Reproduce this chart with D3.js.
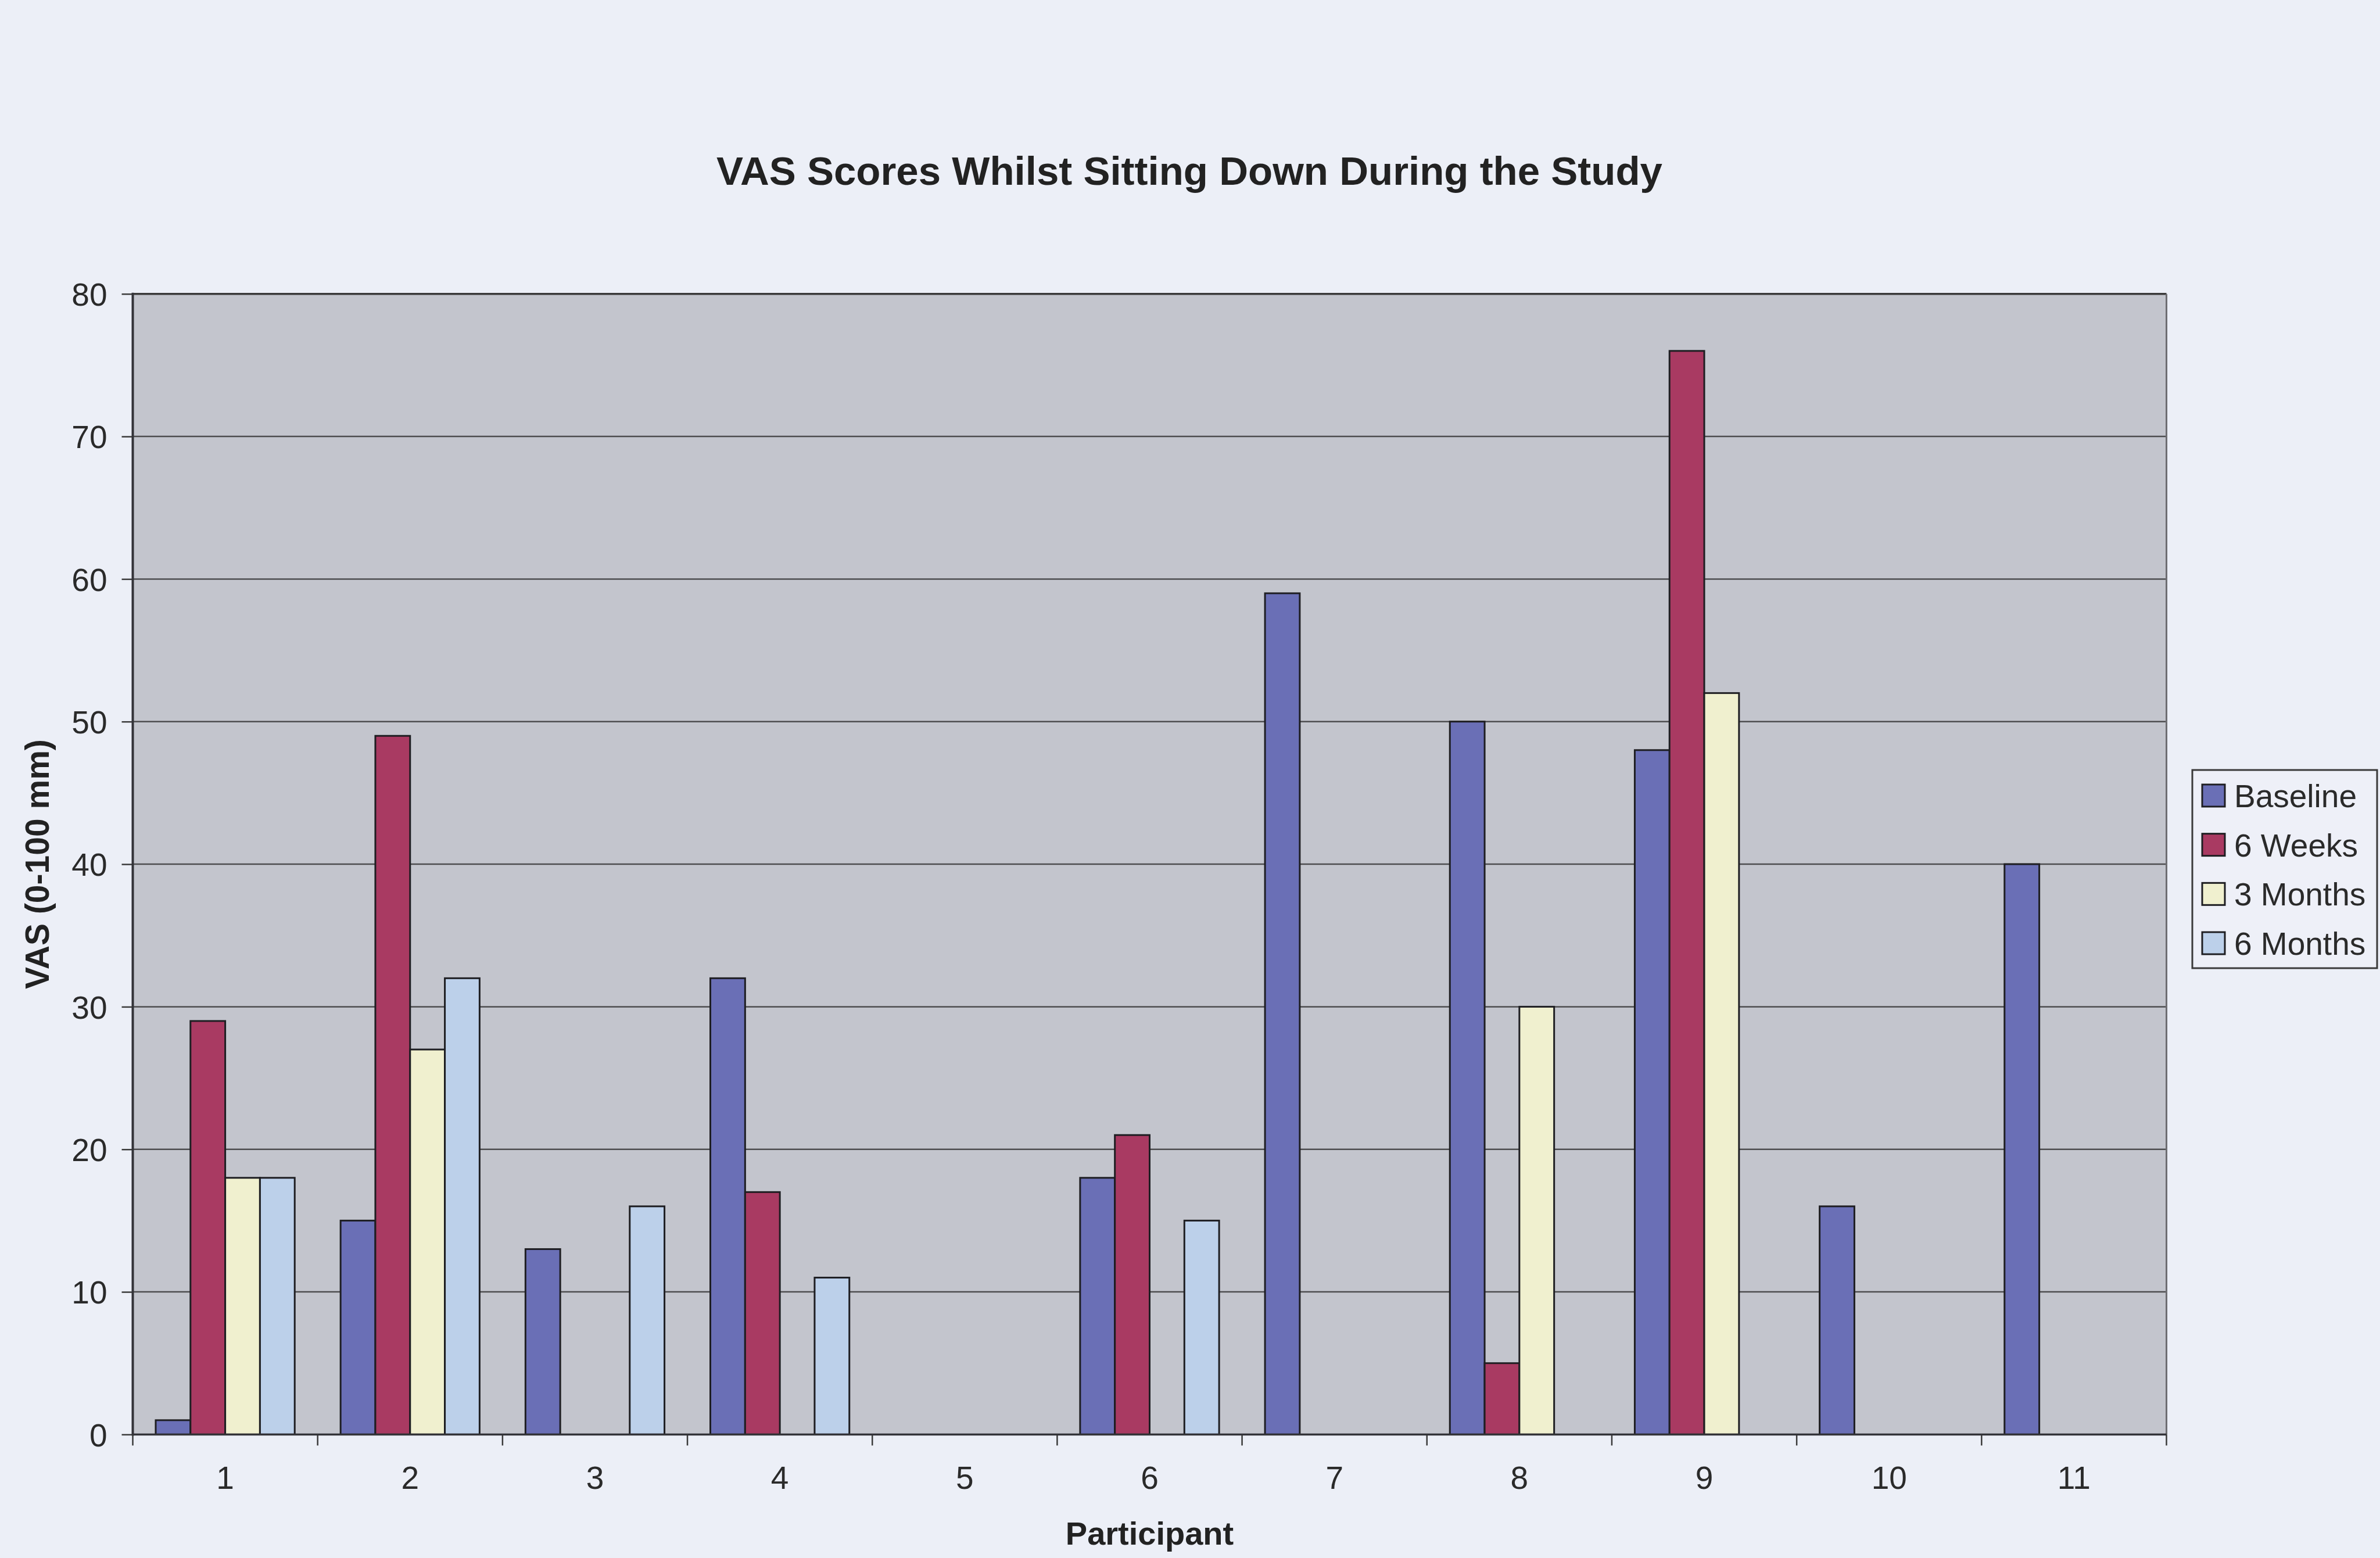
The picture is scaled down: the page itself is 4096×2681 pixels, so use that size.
<!DOCTYPE html>
<html><head><meta charset="utf-8">
<script src="https://cdn.jsdelivr.net/npm/d3@7"></script>
<style>html,body{margin:0;padding:0;background:#eceff7;} svg{display:block}</style>
</head><body>
<svg id="chart" width="4096" height="2681"></svg>
<script>
// ---- data ----
const participants = ["1","2","3","4","5","6","7","8","9","10","11"];
const seriesNames = ["Baseline","6 Weeks","3 Months","6 Months"];
const baseline = [1,15,13,32,0,18,59,50,48,16,40];
const weeks6   = [29,49,0,17,0,21,0,5,76,0,0];
const months3  = [18,27,0,0,0,0,0,30,52,0,0];
const months6  = [18,32,16,11,0,15,0,0,0,0,0];
const yTicks = [0,10,20,30,40,50,60,70,80];
const titleText = "VAS Scores Whilst Sitting Down During the Study";
const xTitle = "Participant";
const yTitle = "VAS (0-100 mm)";
const seriesColors = ["#6a6fb6","#a93a62","#f0f0cf","#bcd0ea"];

// ---- layout ----
const W = 4096, H = 2681;
const plot = {left:228.5, right:3728.5, top:505.7, bottom:2468.4};
const FONT = "'Liberation Sans', Arial, sans-serif";

const svg = d3.select("#chart");
svg.append("rect").attr("width",W).attr("height",H).attr("fill","#eceff7");

const x0 = d3.scaleBand().domain(participants).range([plot.left, plot.right]).paddingInner(0).paddingOuter(0);
const x1 = d3.scaleBand().domain(seriesNames).range([0, x0.bandwidth()]).paddingInner(0).paddingOuter(0.66);
const y = d3.scaleLinear().domain([0,80]).range([plot.bottom, plot.top]);
const color = d3.scaleOrdinal().domain(seriesNames).range(seriesColors);

// plot area
svg.append("rect")
  .attr("x",plot.left).attr("y",plot.top)
  .attr("width",plot.right-plot.left).attr("height",plot.bottom-plot.top)
  .attr("fill","#c3c5cd");

// gridlines
svg.append("g").selectAll("line").data(yTicks.filter(d=>d>0)).join("line")
  .attr("x1",plot.left).attr("x2",plot.right)
  .attr("y1",d=>y(d)).attr("y2",d=>y(d))
  .attr("stroke",d=>d===80?"#3a3a3a":"#4d4d4f").attr("stroke-width",d=>d===80?3.5:2.5);

// right border
svg.append("line").attr("x1",plot.right).attr("x2",plot.right)
  .attr("y1",plot.top).attr("y2",plot.bottom)
  .attr("stroke","#6e6e72").attr("stroke-width",3);

// bars
const seriesData = [baseline, weeks6, months3, months6];
const rows = [];
participants.forEach((p,i)=>{
  seriesNames.forEach((s,j)=>{
    rows.push({p, s, v: seriesData[j][i]});
  });
});
svg.append("g").selectAll("rect").data(rows.filter(d=>d.v>0)).join("rect")
  .attr("x",d=>x0(d.p)+x1(d.s))
  .attr("y",d=>y(d.v))
  .attr("width",x1.bandwidth())
  .attr("height",d=>y(0)-y(d.v))
  .attr("fill",d=>color(d.s))
  .attr("stroke","#1e1e22").attr("stroke-width",3);

// y axis
const yAxisG = svg.append("g").attr("transform",`translate(${plot.left},0)`)
  .call(d3.axisLeft(y).tickValues(yTicks).tickSize(19).tickPadding(25));
yAxisG.select(".domain").remove();
yAxisG.selectAll(".tick line").attr("stroke","#3a3a3a").attr("stroke-width",2.5);
yAxisG.selectAll(".tick text").attr("font-family",FONT).attr("font-size",55).attr("fill","#2a2a2a").attr("dy","0.36em");
svg.append("line").attr("x1",plot.left).attr("x2",plot.left)
  .attr("y1",plot.top-2).attr("y2",plot.bottom+2)
  .attr("stroke","#333338").attr("stroke-width",4);

// x axis labels
const xAxisG = svg.append("g").attr("transform",`translate(0,${plot.bottom})`)
  .call(d3.axisBottom(x0).tickSize(0).tickPadding(55));
xAxisG.select(".domain").remove();
xAxisG.selectAll(".tick text").attr("font-family",FONT).attr("font-size",55).attr("fill","#2a2a2a");
// x boundary ticks
const bounds = participants.map(p=>x0(p)).concat([plot.right]);
svg.append("g").selectAll("line").data(bounds).join("line")
  .attr("x1",d=>d).attr("x2",d=>d)
  .attr("y1",plot.bottom).attr("y2",plot.bottom+19)
  .attr("stroke","#3a3a3a").attr("stroke-width",2.5);
svg.append("line").attr("x1",plot.left).attr("x2",plot.right)
  .attr("y1",plot.bottom).attr("y2",plot.bottom)
  .attr("stroke","#333338").attr("stroke-width",3.5);

// titles
svg.append("text").attr("x",2047).attr("y",318).attr("text-anchor","middle")
  .attr("font-family",FONT).attr("font-weight","bold").attr("font-size",69).attr("fill","#222")
  .text(titleText);
svg.append("text").attr("x",(plot.left+plot.right)/2).attr("y",2658).attr("text-anchor","middle")
  .attr("font-family",FONT).attr("font-weight","bold").attr("font-size",56).attr("fill","#222")
  .text(xTitle);
svg.append("text").attr("transform",`translate(84,${(plot.top+plot.bottom)/2}) rotate(-90)`)
  .attr("text-anchor","middle")
  .attr("font-family",FONT).attr("font-weight","bold").attr("font-size",57).attr("fill","#222")
  .text(yTitle);

// legend
const lg = svg.append("g");
lg.append("rect").attr("x",3773).attr("y",1325).attr("width",318).attr("height",341)
  .attr("fill","#eef0f8").attr("stroke","#3a3a3a").attr("stroke-width",3);
const legendY = d3.scalePoint().domain(seriesNames).range([1369,1623]);
const items = lg.selectAll("g.item").data(seriesNames).join("g").attr("class","item");
items.append("rect").attr("x",3790).attr("y",d=>legendY(d)-19).attr("width",39).attr("height",38)
  .attr("fill",d=>color(d)).attr("stroke","#1e1e22").attr("stroke-width",3);
items.append("text").attr("x",3845).attr("y",d=>legendY(d)+20)
  .attr("font-family",FONT).attr("font-size",55).attr("fill","#2a2a2a")
  .text(d=>d);
</script>
</body></html>
